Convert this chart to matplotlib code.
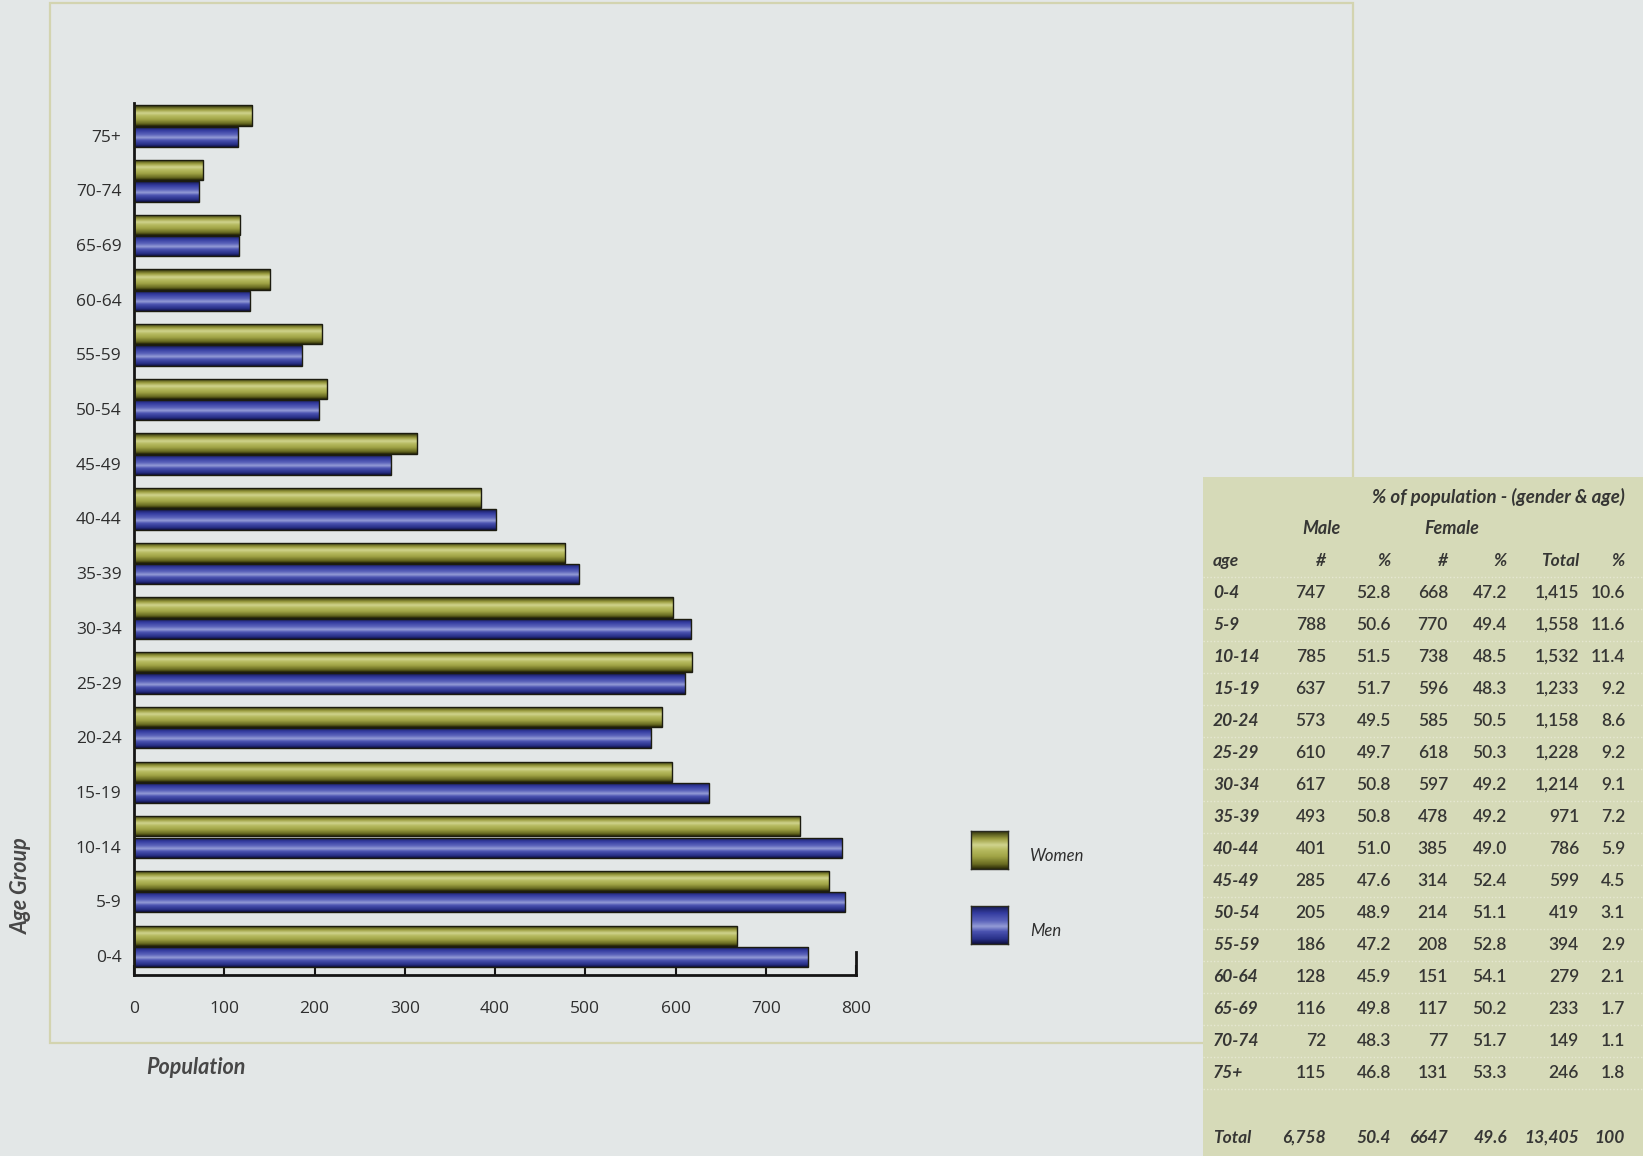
import numpy as np
import matplotlib
matplotlib.use("Agg")
import matplotlib.pyplot as plt
from matplotlib.colors import LinearSegmentedColormap
from matplotlib.patches import Rectangle

# ---------------- data ----------------
ages = ["0-4", "5-9", "10-14", "15-19", "20-24", "25-29", "30-34", "35-39",
        "40-44", "45-49", "50-54", "55-59", "60-64", "65-69", "70-74", "75+"]
men = [747, 788, 785, 637, 573, 610, 617, 493, 401, 285, 205, 186, 128, 116, 72, 115]
women = [668, 770, 738, 596, 585, 618, 597, 478, 385, 314, 214, 208, 151, 117, 77, 131]
male_pct = ["52.8", "50.6", "51.5", "51.7", "49.5", "49.7", "50.8", "50.8",
            "51.0", "47.6", "48.9", "47.2", "45.9", "49.8", "48.3", "46.8"]
female_pct = ["47.2", "49.4", "48.5", "48.3", "50.5", "50.3", "49.2", "49.2",
              "49.0", "52.4", "51.1", "52.8", "54.1", "50.2", "51.7", "53.3"]
total_num = ["1,415", "1,558", "1,532", "1,233", "1,158", "1,228", "1,214", "971",
             "786", "599", "419", "394", "279", "233", "149", "246"]
total_pct = ["10.6", "11.6", "11.4", "9.2", "8.6", "9.2", "9.1", "7.2",
             "5.9", "4.5", "3.1", "2.9", "2.1", "1.7", "1.1", "1.8"]
totals_row = ["6,758", "50.4", "6647", "49.6", "13,405", "100"]
xticks = [0, 100, 200, 300, 400, 500, 600, 700, 800]

# ---------------- style ----------------
W, H = 1643, 1156
BG = "#e3e7e7"
TXT = "#2e2e2e"
women_cm = LinearSegmentedColormap.from_list("w", [
    (0.0, "#2a2a08"), (0.12, "#6a6c22"), (0.32, "#a0a446"), (0.5, "#b8bc62"),
    (0.62, "#d0d48e"), (0.78, "#9c9e40"), (0.92, "#50521a"), (1.0, "#222206")])
men_cm = LinearSegmentedColormap.from_list("m", [
    (0.0, "#101040"), (0.12, "#283088"), (0.32, "#4a52b0"), (0.45, "#949cd6"),
    (0.6, "#5a62ba"), (0.8, "#343ca0"), (0.92, "#20266e"), (1.0, "#101040")])
grad = np.linspace(0, 1, 64).reshape(-1, 1)

fig = plt.figure(figsize=(W / 100, H / 100), dpi=100, facecolor=BG)

# frame
fig.add_artist(Rectangle((50 / W, 1 - 1043 / H), (1353 - 50) / W, (1043 - 3) / H,
                         transform=fig.transFigure, fill=False,
                         edgecolor="#d3d4b0", lw=1.6, zorder=0))

# ---------------- chart ----------------
ax = fig.add_axes([134 / W, 1 - 975 / H, (856 - 134) / W, (975 - 103) / H])
ax.set_facecolor("none")
y = np.arange(len(ages))
h = 0.37
off = 0.39

def gradient_bars(vals, ypos, cmap):
    bars = ax.barh(ypos, vals, height=h, color="none", edgecolor="#1c1c10",
                   lw=1.0, zorder=3)
    for b in bars:
        x0, y0 = b.get_xy()
        im = ax.imshow(grad, cmap=cmap, origin="lower", aspect="auto",
                       extent=(x0, x0 + b.get_width(), y0, y0 + b.get_height()),
                       zorder=2, interpolation="bilinear")
        im.set_clip_path(b)
    return bars

gradient_bars(men, y - 0.02, men_cm)
gradient_bars(women, y + off - 0.02, women_cm)

ax.set_xlim(0, 800)
ax.set_ylim(-0.35, 15.6)
ax.set_aspect("auto")
for s in ("top", "right"):
    ax.spines[s].set_visible(False)
for s in ("left", "bottom"):
    ax.spines[s].set_color("#151515")
    ax.spines[s].set_linewidth(2)
ax.axvline(800, 0, 0.026, color="#151515", lw=2, clip_on=False)

ax.set_xticks(xticks)
ax.set_xticklabels([str(v) for v in xticks])
ax.tick_params(axis="x", direction="in", length=7, width=1.5, color="#151515",
               pad=19, labelsize=12.5, labelcolor=TXT)
ax.set_yticks(y)
ax.set_yticklabels(ages)
ax.tick_params(axis="y", length=0, pad=9, labelsize=12.5, labelcolor=TXT)
for lab in ax.get_xticklabels() + ax.get_yticklabels():
    lab.set_family(["Open Sans", "DejaVu Sans"])

fig.text(146 / W, 1 - 1067 / H, "Population", ha="left", va="center",
         fontsize=15.5, fontweight="bold", style="italic", color="#474747",
         family=["Lato", "DejaVu Sans"])
fig.text(21 / W, 1 - 886 / H, "Age Group", ha="center", va="center", rotation=90,
         fontsize=15.5, fontweight="bold", style="italic", color="#474747",
         family=["Lato", "DejaVu Sans"])

# ---------------- legend ----------------
for label, cmap, ytop in (("Women", women_cm, 831), ("Men", men_cm, 906)):
    lax = fig.add_axes([971 / W, 1 - (ytop + 38) / H, 37 / W, 38 / H])
    lax.imshow(grad, cmap=cmap, origin="lower", aspect="auto",
               interpolation="bilinear")
    lax.set_xticks([])
    lax.set_yticks([])
    for s in lax.spines.values():
        s.set_color("#2a2a20")
        s.set_linewidth(1)
    fig.text(1030 / W, 1 - (ytop + 25) / H, label, ha="left", va="center",
             fontsize=12, style="italic", color=TXT, family=["Lato", "DejaVu Sans"])

# ---------------- table ----------------
tx0, ty0 = 1203, 477
tax = fig.add_axes([tx0 / W, 0, (W - tx0) / W, (H - ty0) / H])
tax.set_facecolor("#d6dab8")
tax.set_xlim(tx0, W)
tax.set_ylim(H, ty0)
tax.set_xticks([])
tax.set_yticks([])
for s in tax.spines.values():
    s.set_visible(False)

TF = ["Lato", "DejaVu Sans"]
TC = "#363634"
fs = 12.5
cols_r = [1326, 1391, 1448, 1507, 1579, 1625]

tax.text(1625, 497, "% of population - (gender & age)", ha="right", va="center",
         fontsize=13.5, fontweight="bold", style="italic", color=TC, family=TF)
tax.text(1321, 529, "Male", ha="center", va="center", fontsize=13,
         fontweight="bold", style="italic", color=TC, family=TF)
tax.text(1452, 529, "Female", ha="center", va="center", fontsize=13,
         fontweight="bold", style="italic", color=TC, family=TF)
tax.text(1213, 561, "age", ha="left", va="center", fontsize=fs,
         fontweight="bold", style="italic", color=TC, family=TF)
for xr, hd in zip(cols_r, ["#", "%", "#", "%", "Total", "%"]):
    tax.text(xr, 561, hd, ha="right", va="center", fontsize=fs,
             fontweight="bold", style="italic", color=TC, family=TF)

row0, dy = 593, 32
for i, a in enumerate(ages):
    yy = row0 + i * dy
    tax.axhline(yy - dy / 2, color="#e6e8d2", lw=1, ls=(0, (1, 1.5)))
    tax.text(1213, yy, a, ha="left", va="center", fontsize=fs,
             fontweight="bold", style="italic", color=TC, family=TF)
    vals = [f"{men[i]}", male_pct[i], f"{women[i]}", female_pct[i],
            total_num[i], total_pct[i]]
    for xr, v in zip(cols_r, vals):
        tax.text(xr, yy, v, ha="right", va="center", fontsize=fs,
                 fontweight="semibold", color=TC, family=TF)
tax.axhline(row0 + 15 * dy + dy / 2, color="#e6e8d2", lw=1, ls=(0, (1, 1.5)))

ytot = 1138
tax.text(1213, ytot, "Total", ha="left", va="center", fontsize=fs,
         fontweight="bold", style="italic", color=TC, family=TF)
for xr, v in zip(cols_r, totals_row):
    tax.text(xr, ytot, v, ha="right", va="center", fontsize=fs,
             fontweight="bold", style="italic", color=TC, family=TF)

fig.savefig("out.png", dpi=100, facecolor=BG)
